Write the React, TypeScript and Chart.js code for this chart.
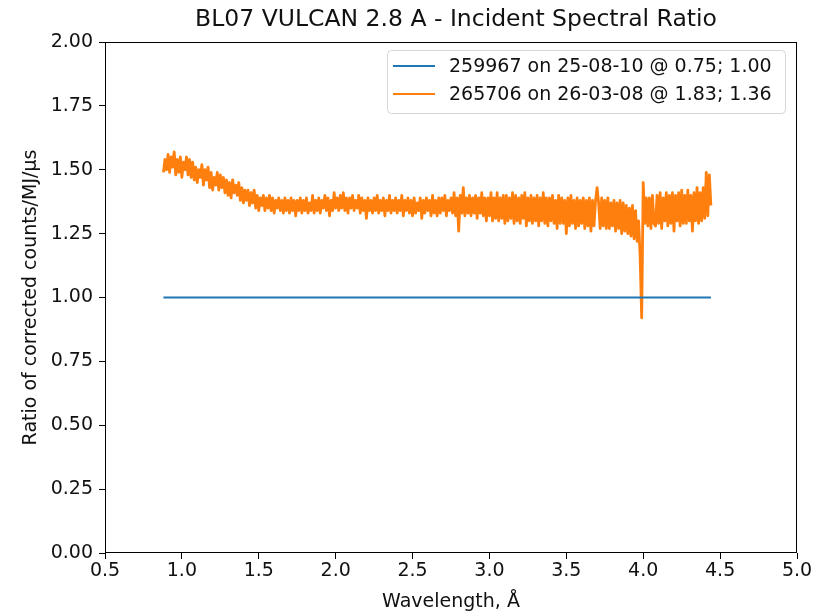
import React, { useEffect, useRef } from "react";
import { Chart, registerables } from "chart.js";

Chart.register(...registerables);

const TITLE = "BL07 VULCAN 2.8 A - Incident Spectral Ratio";
const X_LABEL = "Wavelength, Å";
const Y_LABEL = "Ratio of corrected counts/MJ/μs";
const SERIES_NAMES = ["259967 on 25-08-10 @ 0.75; 1.00", "265706 on 26-03-08 @ 1.83; 1.36"];
const SERIES_COLORS = ["#1f77b4", "#ff7f0e"];

const REF_X = [0.88, 4.44];
const REF_Y = [1.0, 1.0];

const WAVE_START = 0.88;
const WAVE_STEP = 0.01;
const RATIO = [
  1.49, 1.54, 1.50, 1.56, 1.49, 1.55, 1.51, 1.57, 1.48, 1.54,
  1.49, 1.55, 1.47, 1.53, 1.50, 1.55, 1.48, 1.54, 1.47, 1.53,
  1.46, 1.51, 1.45, 1.50, 1.47, 1.52, 1.44, 1.50, 1.46, 1.51,
  1.43, 1.49, 1.42, 1.47, 1.44, 1.49, 1.42, 1.48, 1.43, 1.47,
  1.41, 1.46, 1.40, 1.45, 1.39, 1.46, 1.41, 1.44, 1.40, 1.45,
  1.38, 1.43, 1.37, 1.42, 1.38, 1.42, 1.36, 1.41, 1.37, 1.42,
  1.35, 1.40, 1.34, 1.39, 1.36, 1.40, 1.34, 1.39, 1.35, 1.40,
  1.34, 1.39, 1.33, 1.38, 1.35, 1.39, 1.34, 1.38, 1.33, 1.39,
  1.34, 1.38, 1.33, 1.39, 1.34, 1.38, 1.32, 1.38, 1.34, 1.39,
  1.33, 1.38, 1.34, 1.39, 1.33, 1.37, 1.34, 1.40, 1.33, 1.38,
  1.34, 1.39, 1.33, 1.38, 1.35, 1.40, 1.34, 1.39, 1.32, 1.38,
  1.34, 1.41, 1.35, 1.39, 1.34, 1.40, 1.35, 1.41, 1.34, 1.39,
  1.33, 1.39, 1.35, 1.40, 1.34, 1.38, 1.35, 1.40, 1.33, 1.39,
  1.34, 1.38, 1.31, 1.39, 1.34, 1.38, 1.33, 1.39, 1.34, 1.40,
  1.33, 1.38, 1.34, 1.39, 1.32, 1.38, 1.34, 1.40, 1.33, 1.38,
  1.34, 1.39, 1.33, 1.38, 1.34, 1.40, 1.32, 1.38, 1.34, 1.39,
  1.33, 1.38, 1.32, 1.39, 1.33, 1.37, 1.34, 1.39, 1.31, 1.38,
  1.33, 1.39, 1.34, 1.38, 1.32, 1.40, 1.33, 1.38, 1.32, 1.39,
  1.33, 1.39, 1.34, 1.40, 1.32, 1.38, 1.34, 1.39, 1.33, 1.41,
  1.32, 1.39, 1.26, 1.40, 1.33, 1.43, 1.32, 1.39, 1.33, 1.40,
  1.32, 1.39, 1.33, 1.40, 1.31, 1.39, 1.33, 1.41, 1.32, 1.39,
  1.30, 1.39, 1.32, 1.41, 1.30, 1.39, 1.31, 1.41, 1.30, 1.39,
  1.31, 1.40, 1.29, 1.40, 1.30, 1.39, 1.31, 1.41, 1.29, 1.40,
  1.30, 1.39, 1.29, 1.40, 1.31, 1.41, 1.28, 1.39, 1.30, 1.40,
  1.29, 1.39, 1.30, 1.40, 1.28, 1.39, 1.30, 1.41, 1.29, 1.39,
  1.28, 1.39, 1.30, 1.40, 1.29, 1.38, 1.27, 1.40, 1.29, 1.39,
  1.29, 1.38, 1.25, 1.39, 1.28, 1.40, 1.29, 1.38, 1.27, 1.39,
  1.28, 1.38, 1.29, 1.39, 1.27, 1.38, 1.28, 1.39, 1.26, 1.38,
  1.28, 1.38, 1.43, 1.37, 1.27, 1.39, 1.28, 1.38, 1.27, 1.39,
  1.27, 1.37, 1.28, 1.38, 1.26, 1.37, 1.27, 1.38, 1.25, 1.37,
  1.26, 1.36, 1.25, 1.35, 1.24, 1.36, 1.23, 1.34, 1.22, 1.30,
  1.16, 0.92, 1.45, 1.29, 1.39, 1.28, 1.39, 1.27, 1.40, 1.29,
  1.28, 1.40, 1.29, 1.41, 1.27, 1.39, 1.30, 1.41, 1.28, 1.40,
  1.29, 1.41, 1.26, 1.40, 1.30, 1.41, 1.28, 1.42, 1.29, 1.40,
  1.29, 1.42, 1.30, 1.40, 1.26, 1.41, 1.30, 1.43, 1.29, 1.41,
  1.30, 1.43, 1.31, 1.49, 1.32, 1.48, 1.36,
];

const X_MIN = 0.5;
const X_MAX = 5.0;
const X_STEP = 0.5;
const Y_MIN = 0;
const Y_MAX = 2.0;
const Y_STEP = 0.25;

const FONT = "'DejaVu Sans', sans-serif";
const TEXT_COLOR = "#111";

const overlay = {
  id: "overlay",
  afterDraw(chart: any) {
    const { ctx, chartArea: a } = chart;
    ctx.save();
    // frame (spines)
    ctx.strokeStyle = "#000";
    ctx.lineWidth = 1;
    const l = Math.round(a.left) + 0.5;
    const t = Math.round(a.top) + 0.5;
    const r = Math.round(a.right) - 0.5;
    const b = Math.round(a.bottom) - 0.5;
    ctx.strokeRect(l, t, r - l, b - t);

    // title
    ctx.fillStyle = TEXT_COLOR;
    ctx.font = `23.5px ${FONT}`;
    ctx.textAlign = "center";
    ctx.textBaseline = "middle";
    ctx.fillText(TITLE, 456, 20);

    // axis titles
    ctx.font = `19px ${FONT}`;
    ctx.fillText(X_LABEL, (a.left + a.right) / 2, 602);
    ctx.save();
    ctx.translate(31, (a.top + a.bottom) / 2);
    ctx.rotate(-Math.PI / 2);
    ctx.fillText(Y_LABEL, 0, 0);
    ctx.restore();

    // legend
    const lx = 387, ly = 50, lw = 398, lh = 63;
    ctx.beginPath();
    ctx.roundRect(lx + 0.5, ly + 0.5, lw, lh, 4);
    ctx.fillStyle = "rgba(255,255,255,0.8)";
    ctx.fill();
    ctx.strokeStyle = "#d6d6d6";
    ctx.lineWidth = 1;
    ctx.stroke();
    const rows = [66, 94];
    ctx.font = `19px ${FONT}`;
    ctx.textAlign = "left";
    for (let i = 0; i < SERIES_NAMES.length; i++) {
      ctx.strokeStyle = SERIES_COLORS[i];
      ctx.lineWidth = 2.2;
      ctx.beginPath();
      ctx.moveTo(393, rows[i]);
      ctx.lineTo(435, rows[i]);
      ctx.stroke();
      ctx.fillStyle = TEXT_COLOR;
      ctx.fillText(SERIES_NAMES[i], 449, rows[i] + 1);
    }
    ctx.restore();
  },
};

export default function App() {
  const ref = useRef<HTMLCanvasElement | null>(null);
  useEffect(() => {
    document.body.style.margin = "0";
    const canvas = ref.current;
    if (!canvas) return;
    const refData = REF_X.map((x, i) => ({ x, y: REF_Y[i] }));
    const ratioData = RATIO.map((y, i) => ({ x: +(WAVE_START + i * WAVE_STEP).toFixed(2), y }));
    const chart = new Chart(canvas, {
      type: "line",
      data: {
        datasets: [
          {
            label: SERIES_NAMES[0],
            data: refData,
            borderColor: SERIES_COLORS[0],
            borderWidth: 2.2,
            pointRadius: 0,
            tension: 0,
          },
          {
            label: SERIES_NAMES[1],
            data: ratioData,
            borderColor: SERIES_COLORS[1],
            borderWidth: 2.8,
            pointRadius: 0,
            tension: 0,
            borderJoinStyle: "round",
          },
        ],
      },
      options: {
        responsive: false,
        animation: false,
        devicePixelRatio: 1,
        layout: { padding: { top: 42, right: 26, left: 0, bottom: 0 } },
        plugins: {
          legend: { display: false },
          title: { display: false },
          tooltip: { enabled: false },
        },
        scales: {
          x: {
            type: "linear",
            min: X_MIN,
            max: X_MAX,
            border: { display: false },
            grid: { drawOnChartArea: false, drawTicks: true, tickLength: 6, color: "#000" },
            ticks: {
              stepSize: X_STEP,
              color: TEXT_COLOR,
              font: { family: FONT, size: 19 },
              padding: 1,
              maxRotation: 0,
              autoSkip: false,
              callback: (v: any) => Number(v).toFixed(1),
            },
            afterFit: (s: any) => {
              s.height = 60;
            },
          },
          y: {
            type: "linear",
            min: Y_MIN,
            max: Y_MAX,
            border: { display: false },
            grid: { drawOnChartArea: false, drawTicks: true, tickLength: 6, color: "#000" },
            ticks: {
              stepSize: Y_STEP,
              color: TEXT_COLOR,
              font: { family: FONT, size: 19 },
              padding: 6,
              autoSkip: false,
              callback: (v: any) => Number(v).toFixed(2),
            },
            afterFit: (s: any) => {
              s.width = 105;
            },
          },
        },
      },
      plugins: [overlay],
    });
    return () => chart.destroy();
  }, []);
  return <canvas ref={ref} width={823} height={613} style={{ display: "block" }} />;
}
